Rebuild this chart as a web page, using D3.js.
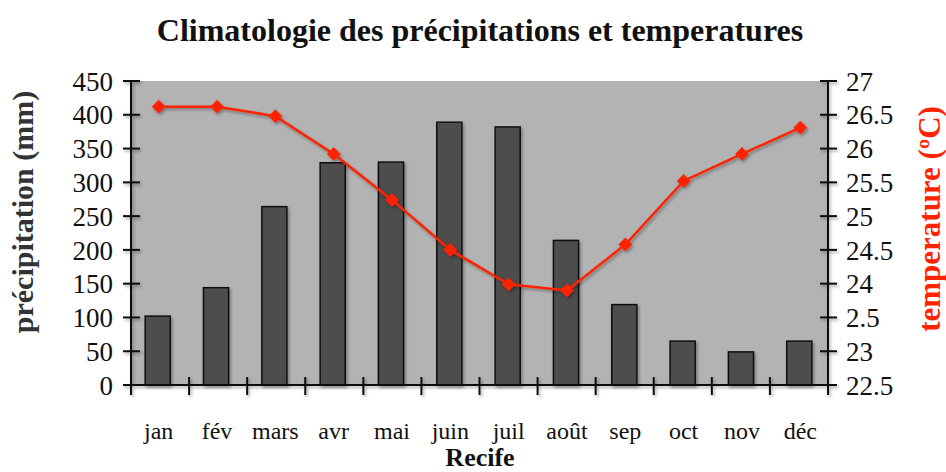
<!DOCTYPE html>
<html>
<head>
<meta charset="utf-8">
<script src="https://cdn.jsdelivr.net/npm/d3@7"></script>
<style>
  body { margin: 0; background: #fff; }
  text { font-family: "Liberation Serif", "Times New Roman", serif; fill: #111; }
</style>
</head>
<body>
<div id="vis"></div>
<script>
var width = 946;
var height = 472;
var margin = { top: 81, left: 131, bottom: 87, right: 118 };

// data
var months = ['jan', 'fév', 'mars', 'avr', 'mai', 'juin', 'juil', 'août', 'sep', 'oct', 'nov', 'déc'];
var precip = [102, 144, 264, 329, 330, 389, 382, 214, 119, 65, 49, 65];
var temp = [26.62, 26.62, 26.48, 25.92, 25.24, 24.5, 23.99, 23.9, 24.58, 25.52, 25.92, 26.31];
var precipTicks = [0, 50, 100, 150, 200, 250, 300, 350, 400, 450];
var tempTicks = [22.5, 23, 23.5, 24, 24.5, 25, 25.5, 26, 26.5, 27];
// the original has a typo on the 23.5 tick
var tempTickLabels = ['22.5', '23', '2.5', '24', '24.5', '25', '25.5', '26', '26.5', '27'];

var w = width - margin.left - margin.right;
var h = height - margin.top - margin.bottom;

var svg = d3.select('#vis').append('svg')
  .attr('width', width)
  .attr('height', height);

// soft shadow like the excel export
var defs = svg.append('defs');
defs.append('filter')
  .attr('id', 'shadow')
  .attr('x', '-20%').attr('y', '-20%').attr('width', '140%').attr('height', '140%')
  .append('feDropShadow')
  .attr('dx', 1.5).attr('dy', 2).attr('stdDeviation', 1.5)
  .attr('flood-color', '#000').attr('flood-opacity', 0.35);

var g = svg.append('g')
  .attr('transform', 'translate(' + margin.left + ',' + margin.top + ')');

var x = d3.scaleBand()
  .domain(months)
  .range([0, w])
  .paddingInner(0.57)
  .paddingOuter(0.26);

var yP = d3.scaleLinear().domain([0, 450]).range([h, 0]);
var yT = d3.scaleLinear().domain([22.5, 27]).range([h, 0]);

// plot background
g.append('rect')
  .attr('width', w)
  .attr('height', h)
  .attr('fill', '#b3b3b3');

// bars
g.selectAll('.bar')
  .data(precip)
  .enter()
  .append('rect')
    .attr('class', 'bar')
    .attr('x', function (d, i) { return x(months[i]) - 1; })
    .attr('y', function (d) { return yP(d); })
    .attr('width', x.bandwidth())
    .attr('height', function (d) { return h - yP(d); })
    .attr('fill', '#4d4d4d')
    .attr('stroke', '#111')
    .attr('stroke-width', 1.5)
    .attr('filter', 'url(#shadow)');

// left axis
var leftAxis = d3.axisLeft(yP)
  .tickValues(precipTicks)
  .tickSize(0)
  .tickPadding(18);
var la = g.append('g').call(leftAxis);
la.select('.domain').remove();
la.selectAll('text')
  .style('font-size', '27px')
  .attr('dy', '0.34em');

// right axis
var rightAxis = d3.axisRight(yT)
  .tickValues(tempTicks)
  .tickSize(0)
  .tickPadding(18)
  .tickFormat(function (d, i) { return tempTickLabels[i]; });
var ra = g.append('g').attr('transform', 'translate(' + w + ',0)').call(rightAxis);
ra.select('.domain').remove();
ra.selectAll('text')
  .style('font-size', '27px')
  .attr('dy', '0.34em');

// axis lines and cross ticks
var axes = g.append('g')
  .attr('stroke', '#111')
  .attr('stroke-width', 2)
  .attr('filter', 'url(#shadow)');

axes.append('line').attr('x1', 0).attr('x2', 0).attr('y1', 0).attr('y2', h + 9);
axes.append('line').attr('x1', w).attr('x2', w).attr('y1', 0).attr('y2', h + 9);
axes.append('line').attr('x1', -8).attr('x2', w + 8).attr('y1', h).attr('y2', h);

axes.selectAll('.lt')
  .data(precipTicks)
  .enter().append('line')
  .attr('x1', -8).attr('x2', 9)
  .attr('y1', function (d) { return yP(d); })
  .attr('y2', function (d) { return yP(d); });

axes.selectAll('.rt')
  .data(tempTicks)
  .enter().append('line')
  .attr('x1', w - 8).attr('x2', w + 9)
  .attr('y1', function (d) { return yT(d); })
  .attr('y2', function (d) { return yT(d); });

// category boundary ticks
axes.selectAll('.xt')
  .data(d3.range(0, months.length + 1))
  .enter().append('line')
  .attr('x1', function (d) { return d * w / months.length; })
  .attr('x2', function (d) { return d * w / months.length; })
  .attr('y1', h - 8).attr('y2', h + 10);

// month labels
g.selectAll('.mlabel')
  .data(months)
  .enter().append('text')
  .attr('class', 'mlabel')
  .attr('x', function (d) { return x(d) + x.bandwidth() / 2; })
  .attr('y', h + 54)
  .attr('text-anchor', 'middle')
  .style('font-size', '24px')
  .text(function (d) { return d; });

// temperature line
var line = d3.line()
  .x(function (d, i) { return x(months[i]) + x.bandwidth() / 2; })
  .y(function (d) { return yT(d); });

var tg = g.append('g').attr('filter', 'url(#shadow)');
tg.append('path')
  .datum(temp)
  .attr('d', line)
  .attr('fill', 'none')
  .attr('stroke', '#ff2400')
  .attr('stroke-width', 2.5);

tg.selectAll('.marker')
  .data(temp)
  .enter().append('path')
  .attr('d', d3.symbol().type(d3.symbolDiamond2).size(120))
  .attr('transform', function (d, i) {
    return 'translate(' + (x(months[i]) + x.bandwidth() / 2) + ',' + yT(d) + ')';
  })
  .attr('fill', '#ff2400');

// titles
svg.append('text')
  .attr('x', 480)
  .attr('y', 41)
  .attr('text-anchor', 'middle')
  .style('font-size', '32px')
  .style('font-weight', 'bold')
  .text('Climatologie des précipitations et temperatures');

svg.append('text')
  .attr('transform', 'translate(33,' + 212 + ') rotate(-90)')
  .attr('text-anchor', 'middle')
  .style('font-size', '30px')
  .style('font-weight', 'bold')
  .style('fill', '#333')
  .text('précipitation (mm)');

svg.append('text')
  .attr('transform', 'translate(940,' + 219 + ') rotate(-90)')
  .attr('text-anchor', 'middle')
  .style('font-size', '31px')
  .style('font-weight', 'bold')
  .style('fill', '#ff2400')
  .text('temperature (ºC)');

svg.append('text')
  .attr('x', 480)
  .attr('y', 466)
  .attr('text-anchor', 'middle')
  .style('font-size', '26px')
  .style('font-weight', 'bold')
  .text('Recife');
</script>
</body>
</html>
